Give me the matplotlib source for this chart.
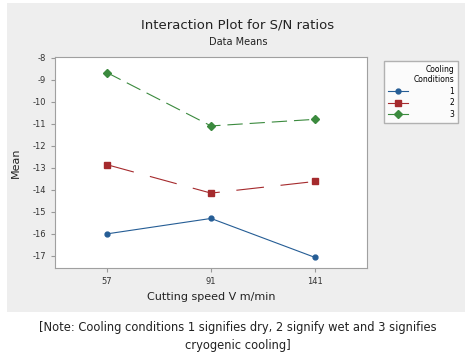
import matplotlib.pyplot as plt
from matplotlib.patches import Rectangle

# data
speeds = ["57", "91", "141"]
cond_labels = ["1", "2", "3"]
cond1 = [-16.0, -15.3, -17.07]
cond2 = [-12.86, -14.15, -13.62]
cond3 = [-8.68, -11.1, -10.8]

ytick_vals = [-8, -9, -10, -11, -12, -13, -14, -15, -16, -17]

plt.rcParams.update({"font.family": "DejaVu Sans",
                     "lines.scale_dashes": False})

fig = plt.figure(figsize=(4.74, 3.58), dpi=100)
W, H = 474, 358

# gray panel behind the chart
fig.patches.append(Rectangle((7 / W, 1 - 312 / H), 458 / W, 309 / H,
                             transform=fig.transFigure, facecolor="#eeeeee",
                             edgecolor="none", zorder=-1))

ax = fig.add_axes([55 / W, 1 - 268 / H, 312 / W, 211 / H])
ax.set_facecolor("white")

x = [1, 2, 3]
styles = [
    (cond1, "#255d95", "o", "-", 3.5),
    (cond2, "#a52a2d", "s", (0, (20, 12)), 4.5),
    (cond3, "#3b8a3e", "D", (0, (11, 5)), 4.5),
]
handles = []
for vals, col, mk, ls, ms in styles:
    h, = ax.plot(x, vals, color=col, marker=mk, linestyle=ls,
                 linewidth=0.8, markersize=ms)
    handles.append(h)

ax.set_xlim(0.5, 3.5)
ax.set_ylim(-17.55, -7.97)
ax.set_xticks(x)
ax.set_xticklabels(speeds)
ax.set_yticks(ytick_vals)
ax.set_yticklabels([str(v) for v in ytick_vals])
ax.tick_params(labelsize=6, length=3, color="#999999", labelcolor="#333333")
for s in ax.spines.values():
    s.set_color("#a0a0a0")
    s.set_linewidth(0.8)

ax.set_xlabel("Cutting speed V m/min", fontsize=8, color="#222222", labelpad=4)
ax.set_ylabel("Mean", fontsize=8, color="#222222", labelpad=8)

fig.text(238 / W, 1 - 25 / H, "Interaction Plot for S/N ratios",
         ha="center", va="center", fontsize=9.5, color="#222222")
fig.text(238 / W, 1 - 42 / H, "Data Means",
         ha="center", va="center", fontsize=7, color="#222222")

# legend: short solid handles, labels pushed to the right edge
leg_handles = [plt.Line2D([], [], color=c, marker=m, markersize=ms, linewidth=0.8)
               for _, c, m, _, ms in styles]
leg = ax.legend(leg_handles, cond_labels, title="Cooling\nConditions",
                loc="upper left", bbox_to_anchor=(380 / W, 1 - 57 / H),
                bbox_transform=fig.transFigure, fontsize=5.5, title_fontsize=5.5,
                frameon=True, fancybox=False, edgecolor="#a0a0a0",
                handlelength=2.6, handletextpad=5.5, borderpad=0.5,
                labelspacing=0.35, alignment="right")
leg.get_title().set_multialignment("right")
for t in leg.get_texts():
    t.set_ha("right")

fig.text(238 / W, 1 - 327 / H,
         "[Note: Cooling conditions 1 signifies dry, 2 signify wet and 3 signifies",
         ha="center", va="center", fontsize=8.3, color="#222222")
fig.text(238 / W, 1 - 345 / H, "cryogenic cooling]",
         ha="center", va="center", fontsize=8.3, color="#222222")

fig.savefig("out.png", dpi=100, facecolor="white")
